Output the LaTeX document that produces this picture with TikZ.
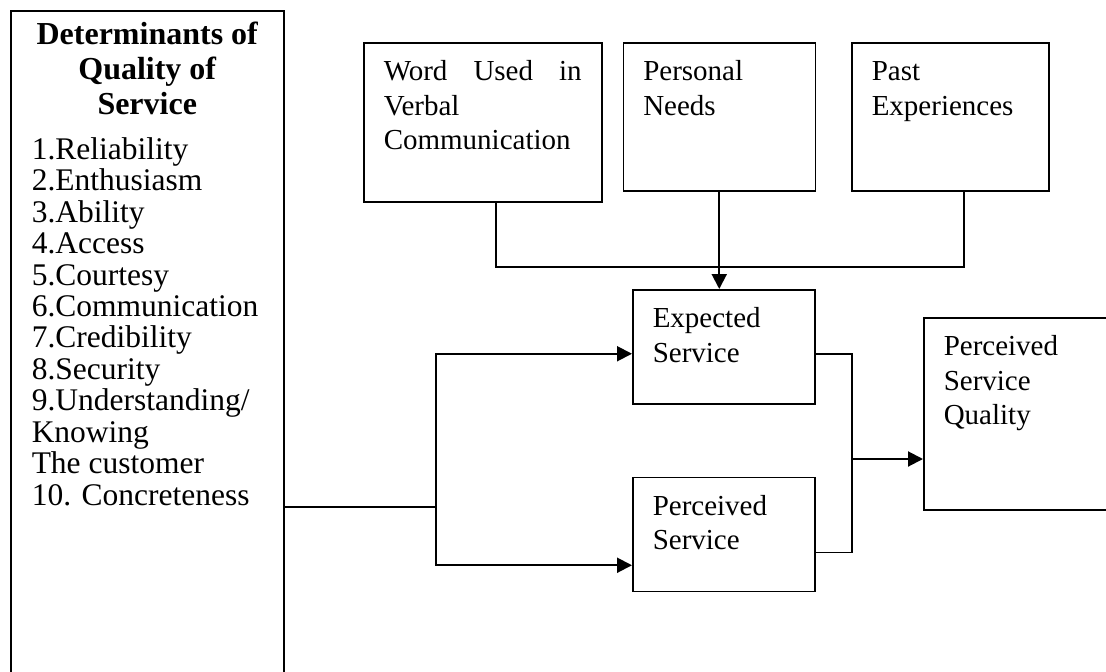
\documentclass[tikz,border=0pt]{standalone}
\usepackage{fontspec}
\setmainfont{Liberation Serif}
\usetikzlibrary{arrows.meta, positioning}
\newcommand{\boxtext}[3]{\parbox[t][#2][t]{#1}{\strut#3}}

\begin{document}
\begin{tikzpicture}[
    x=1pt, y=-1pt,
    box/.style={draw, line width=1.5pt, inner xsep=20pt, inner ysep=14pt, anchor=north west, font=\fontsize{29}{34.5}\selectfont},
    detbox/.style={draw, line width=1.5pt, inner xsep=21pt, inner ysep=11pt, anchor=north west},
    line/.style={line width=1.5pt},
    arrow/.style={-{Triangle[length=15pt, width=15pt]}, line width=2pt}
]
    \path[use as bounding box] (0,0) rectangle (1106,672);
    \clip (0,0) rectangle (1106,672);

    \node[detbox] (det) at (10,10) {\parbox[t][700pt][t]{231pt}{%
        {\centering\bfseries\fontsize{32}{35}\selectfont Determinants of\\Quality of\\Service\par}%
        \vspace{13.5pt}%
        \fontsize{31.5}{31.45}\selectfont
        1.Reliability\\2.Enthusiasm\\3.Ability\\4.Access\\5.Courtesy\\6.Communication\\7.Credibility\\8.Security\\9.Understanding/\\Knowing\\The customer\\10. Concreteness}};
    \node[box] (word) at (363,42) {\boxtext{198pt}{131pt}{\makebox[\linewidth][s]{Word Used in}\\Verbal\\Communication}};
    \node[box, right=20pt of word.north east, anchor=north west] (needs) {\boxtext{152pt}{120pt}{Personal\\Needs}};
    \node[box, right=35pt of needs] (past) {\boxtext{157pt}{120pt}{Past\\Experiences}};
    \node[box] (expected) at (632,289) {\boxtext{142pt}{86pt}{Expected\\Service}};
    \node[box, below=72pt of expected] (perceived) {\boxtext{142pt}{86pt}{Perceived\\Service}};
    \node[box] (quality) at (923,317) {\boxtext{190pt}{164pt}{Perceived\\Service\\Quality}};

    % joins of the connectors
    \coordinate (wjoin) at (496,267);
    \coordinate (pjoin) at (964,267);
    \coordinate (split) at (436,507);
    \coordinate (merge) at (852,459);

    \draw[line] (word.south -| wjoin) -- (wjoin) -- (pjoin) -- (past.south -| pjoin);
    \draw[arrow] (needs.south) -- (needs.south |- expected.north);
    \draw[line] (det.east |- split) -- (split);
    \draw[arrow] (split) |- ([yshift=-7pt]expected.west);
    \draw[arrow] (split) |- ([yshift=-31pt]perceived.west);
    \draw[line] ([yshift=-7pt]expected.east) -| (merge);
    \draw[line] ([yshift=-18pt]perceived.east) -| (merge);
    \draw[arrow] (merge) -- (merge -| quality.west);
\end{tikzpicture}
\end{document}
